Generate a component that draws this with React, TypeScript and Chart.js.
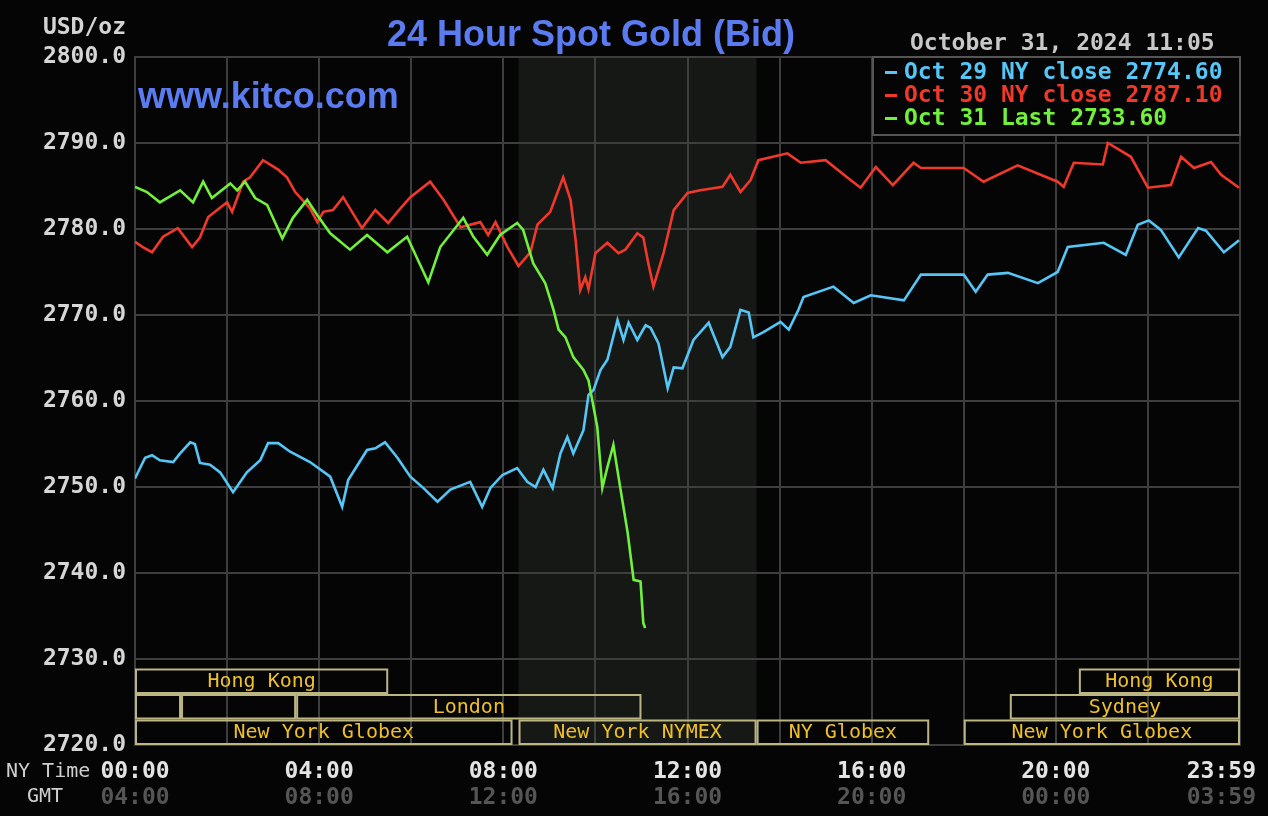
import React, { useEffect, useRef } from 'react';
import Chart from 'chart.js/auto';

const MONO = "'DejaVu Sans Mono', 'Liberation Mono', monospace";
const SANS = "'Liberation Sans', Arial, sans-serif";

// ---- Data (hours since NY midnight, USD/oz) ----
const blueHours = [0.00,0.22,0.37,0.54,0.83,0.98,1.20,1.30,1.41,1.63,1.85,2.13,2.43,2.72,2.89,3.11,3.37,3.80,4.24,4.50,4.63,5.04,5.22,5.43,5.70,5.98,6.26,6.57,6.85,7.28,7.54,7.72,7.98,8.30,8.52,8.70,8.87,9.07,9.24,9.39,9.52,9.74,9.85,9.96,10.11,10.26,10.48,10.61,10.72,10.91,11.09,11.20,11.37,11.57,11.70,11.89,12.13,12.46,12.76,12.93,13.15,13.33,13.43,13.65,14.02,14.20,14.41,14.52,15.17,15.61,15.98,16.70,17.07,18.00,18.26,18.52,18.96,19.61,20.04,20.26,21.04,21.52,21.78,22.02,22.28,22.67,23.09,23.26,23.65,23.98];
const blueValues = [2751.0,2753.4,2753.7,2753.1,2752.9,2753.9,2755.2,2755.0,2752.8,2752.6,2751.7,2749.4,2751.7,2753.1,2755.1,2755.1,2754.1,2752.9,2751.2,2747.7,2750.8,2754.3,2754.5,2755.2,2753.4,2751.2,2749.9,2748.3,2749.7,2750.6,2747.7,2749.9,2751.4,2752.2,2750.6,2750.0,2752.0,2749.9,2753.9,2755.8,2753.9,2756.6,2760.7,2761.3,2763.6,2764.8,2769.4,2767.1,2769.1,2767.1,2768.8,2768.5,2766.7,2761.5,2763.9,2763.8,2767.1,2769.1,2765.1,2766.3,2770.6,2770.3,2767.4,2768.0,2769.2,2768.3,2770.6,2772.1,2773.3,2771.4,2772.3,2771.7,2774.7,2774.7,2772.7,2774.7,2774.9,2773.7,2775.0,2777.9,2778.4,2777.0,2780.5,2781.0,2779.9,2776.7,2780.1,2779.8,2777.3,2778.7];

const redHours = [0.00,0.17,0.37,0.61,0.93,1.24,1.41,1.59,2.00,2.11,2.35,2.50,2.78,3.11,3.30,3.48,3.80,3.96,4.09,4.30,4.52,4.93,5.22,5.50,5.70,5.98,6.41,6.70,7.07,7.50,7.67,7.83,8.09,8.33,8.59,8.74,9.02,9.30,9.46,9.57,9.67,9.78,9.85,10.00,10.26,10.50,10.65,10.91,11.04,11.15,11.26,11.48,11.70,12.00,12.28,12.76,12.93,13.15,13.37,13.54,14.17,14.46,15.00,15.54,15.76,16.09,16.46,16.91,17.07,18.00,18.43,19.17,20.04,20.17,20.39,21.02,21.13,21.63,22.00,22.50,22.72,23.00,23.37,23.59,23.98];
const redValues = [2778.5,2777.9,2777.3,2779.1,2780.1,2777.9,2779.0,2781.4,2783.1,2782.0,2785.5,2786.0,2788.0,2786.9,2786.0,2784.3,2782.4,2780.8,2782.0,2782.2,2783.7,2780.1,2782.2,2780.7,2782.0,2783.7,2785.5,2783.4,2780.2,2780.8,2779.3,2780.8,2777.9,2775.7,2777.3,2780.5,2782.0,2786.0,2783.4,2778.7,2772.9,2774.4,2773.0,2777.2,2778.4,2777.2,2777.6,2779.5,2779.0,2776.0,2773.3,2777.2,2782.2,2784.2,2784.5,2784.9,2786.3,2784.3,2785.7,2788.0,2788.8,2787.7,2788.0,2785.7,2784.8,2787.2,2785.1,2787.7,2787.1,2787.1,2785.5,2787.4,2785.5,2784.9,2787.7,2787.5,2790.0,2788.4,2784.8,2785.1,2788.4,2787.1,2787.8,2786.3,2784.8];

const greenHours = [0.00,0.26,0.54,0.98,1.26,1.48,1.67,2.07,2.22,2.39,2.61,2.87,3.20,3.43,3.74,3.96,4.24,4.67,5.04,5.48,5.91,6.37,6.63,7.13,7.35,7.65,7.93,8.30,8.43,8.65,8.91,9.09,9.20,9.35,9.52,9.74,9.85,10.04,10.15,10.26,10.39,10.54,10.70,10.83,10.98,11.04,11.08];
const greenValues = [2784.9,2784.3,2783.1,2784.5,2783.1,2785.5,2783.6,2785.3,2784.5,2785.5,2783.6,2782.8,2778.9,2781.3,2783.4,2781.6,2779.5,2777.6,2779.3,2777.3,2779.1,2773.8,2777.9,2781.3,2779.1,2777.0,2779.3,2780.7,2779.9,2776.0,2773.7,2770.6,2768.3,2767.4,2765.1,2763.6,2762.4,2757.0,2749.9,2752.3,2754.9,2749.9,2744.7,2739.2,2739.0,2734.2,2733.6];

const seriesLabels = ['Oct 29 NY close 2774.60', 'Oct 30 NY close 2787.10', 'Oct 31 Last 2733.60'];
const seriesColors = ['#56c6f6', '#f0392a', '#72f03e'];

// ---- Axis labels ----
const xTickHours = [0, 4, 8, 12, 16, 20, 24];
const nyTimeLabels = ['00:00', '04:00', '08:00', '12:00', '16:00', '20:00', '23:59'];
const gmtLabels = ['04:00', '08:00', '12:00', '16:00', '20:00', '00:00', '03:59'];

// ---- Trading sessions (row 0 = top) ----
const sessionNames = ['Hong Kong', '', '', 'London', 'New York Globex', 'New York NYMEX', 'NY Globex', 'New York Globex', 'Sydney', 'Hong Kong'];
const sessionRows = [0, 1, 1, 1, 2, 2, 2, 2, 1, 0];
const sessionStarts = [0, 0, 1, 3.5, 0, 8.33, 13.5, 18, 19, 20.5];
const sessionEnds = [5.5, 1, 3.5, 11, 8.2, 13.5, 17.25, 24, 24, 24];
const nymexWindow = [8.33, 13.5];

const titleText = '24 Hour Spot Gold (Bid)';
const siteText = 'www.kitco.com';
const stampText = 'October 31, 2024 11:05';

const toPoints = (hs: number[], vs: number[]) => hs.map((h, i) => ({ x: h, y: vs[i] }));

export default function App() {
  const ref = useRef<HTMLCanvasElement>(null);

  useEffect(() => {
    const canvas = ref.current!;
    const GRID = '#3e3e3e';

    const decor = {
      id: 'decor',
      beforeDraw(chart: any) {
        const { ctx, chartArea: a, scales } = chart;
        ctx.save();
        ctx.fillStyle = '#050505';
        ctx.fillRect(0, 0, chart.width, chart.height);
        const x0 = scales.x.getPixelForValue(nymexWindow[0]);
        const x1 = scales.x.getPixelForValue(nymexWindow[1]);
        ctx.fillStyle = '#161816';
        ctx.fillRect(x0, a.top, x1 - x0, a.bottom - a.top);
        ctx.restore();
      },
      afterDraw(chart: any) {
        const { ctx, chartArea: a, scales } = chart;
        const xs = scales.x;
        ctx.save();

        // session boxes
        const rowH = 25.5;
        ctx.lineWidth = 2;
        ctx.textAlign = 'center';
        ctx.textBaseline = 'middle';
        ctx.font = `20px ${MONO}`;
        sessionNames.forEach((name, i) => {
          const r = sessionRows[i];
          const top = a.bottom - rowH * (3 - r) + 1;
          const bot = top + rowH - 2;
          const l = xs.getPixelForValue(sessionStarts[i]) + 1;
          const rr = Math.min(xs.getPixelForValue(sessionEnds[i]) - 1, a.right - 1);
          ctx.strokeStyle = '#bcb683';
          ctx.strokeRect(l, top, rr - l, bot - top);
          if (name) {
            ctx.fillStyle = '#edc02a';
            ctx.fillText(name, (l + rr) / 2, (top + bot) / 2 + 1);
          }
        });

        // legend box
        const lx = 873, ly = a.top, lw = a.right - 873, lh = 78;
        ctx.fillStyle = '#050505';
        ctx.fillRect(lx, ly, lw, lh);
        ctx.strokeStyle = '#555555';
        ctx.strokeRect(lx, ly, lw, lh);
        ctx.textAlign = 'left';
        ctx.font = `bold 23px ${MONO}`;
        seriesLabels.forEach((lab, i) => {
          const cy = 72 + i * 23;
          ctx.fillStyle = seriesColors[i];
          ctx.fillRect(885, cy - 1, 12, 3);
          ctx.fillText(lab, 904, cy + 1);
        });

        // title / site / timestamp
        ctx.font = `bold 36px ${SANS}`;
        ctx.fillStyle = '#5b7bf0';
        ctx.textAlign = 'center';
        ctx.textBaseline = 'alphabetic';
        ctx.fillText(titleText, 591, 46);
        ctx.textAlign = 'left';
        ctx.fillText(siteText, 138, 108);

        ctx.font = `bold 23px ${MONO}`;
        ctx.fillStyle = '#c8c8c8';
        ctx.textBaseline = 'middle';
        ctx.fillText(stampText, 910, 44);

        ctx.textAlign = 'right';
        ctx.fillStyle = '#d4d4d4';
        ctx.fillText('USD/oz', 126, 28);

        // x labels
        ctx.textAlign = 'left';
        ctx.font = `20px ${MONO}`;
        ctx.fillStyle = '#cfcfcf';
        ctx.fillText('NY Time', 6, 772);
        ctx.fillText('GMT', 27, 797);
        ctx.font = `bold 23px ${MONO}`;
        ctx.textAlign = 'center';
        xTickHours.forEach((h, i) => {
          const px = xs.getPixelForValue(h);
          const w = ctx.measureText(nyTimeLabels[i]).width;
          const cx = Math.min(px, 1256 - w / 2);
          ctx.fillStyle = '#e4e4e4';
          ctx.fillText(nyTimeLabels[i], cx, 772);
          ctx.fillStyle = '#555555';
          ctx.fillText(gmtLabels[i], cx, 798);
        });
        ctx.restore();
      },
    };

    const mk = (hs: number[], vs: number[], i: number) => ({
      label: seriesLabels[i],
      data: toPoints(hs, vs),
      borderColor: seriesColors[i],
      backgroundColor: seriesColors[i],
      borderWidth: 2.6,
      pointRadius: 0,
      tension: 0,
      fill: false,
    });

    const chart = new Chart(canvas, {
      type: 'line',
      data: {
        datasets: [
          mk(greenHours, greenValues, 2),
          mk(redHours, redValues, 1),
          mk(blueHours, blueValues, 0),
        ],
      },
      options: {
        responsive: false,
        animation: false,
        devicePixelRatio: 1,
        layout: { padding: { left: 0, right: 28, top: 57, bottom: 0 } },
        plugins: { legend: { display: false }, tooltip: { enabled: false }, title: { display: false } },
        scales: {
          x: {
            type: 'linear',
            min: 0,
            max: 24,
            ticks: { display: false, stepSize: 2 },
            grid: { color: GRID, lineWidth: 2, drawTicks: false },
            border: { display: true, color: GRID, width: 2 },
            afterFit: (s: any) => { s.height = 71; },
          },
          y: {
            min: 2720,
            max: 2800,
            ticks: {
              stepSize: 10,
              callback: (v: any) => Number(v).toFixed(1),
              color: '#d6d6d6',
              font: { family: MONO, size: 23, weight: 'bold' },
              padding: 9,
            },
            grid: { color: GRID, lineWidth: 2, drawTicks: false },
            border: { display: true, color: GRID, width: 2 },
            afterFit: (s: any) => { s.width = 135; },
          },
        },
      },
      plugins: [decor],
    } as any);

    return () => chart.destroy();
  }, []);

  return (
    <div style={{ position: 'fixed', left: 0, top: 0, width: 1268, height: 816, background: '#050505' }}>
      <canvas ref={ref} width={1268} height={816} style={{ display: 'block' }} />
    </div>
  );
}
